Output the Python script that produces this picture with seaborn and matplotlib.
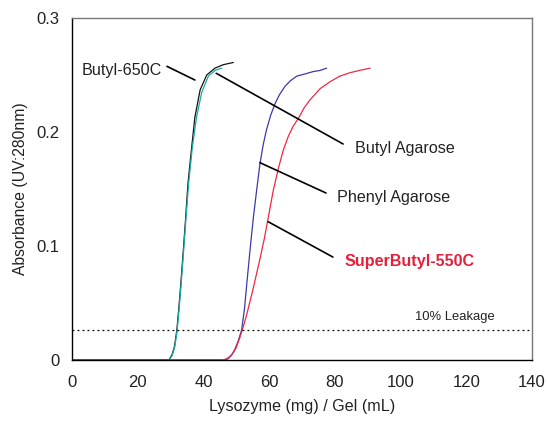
import matplotlib
matplotlib.use("Agg")
import matplotlib.pyplot as plt
import seaborn as sns
import pandas as pd

# --- data ---
butyl650_x = [0, 29.5, 30.5, 31.2, 31.9, 32.5, 33.2, 33.9, 34.6, 35.3, 36.4, 37.4, 39.0, 41.0, 43.5, 46.0, 49.1]
butyl650_y = [0, 0, 0.005, 0.012, 0.026, 0.045, 0.07, 0.097, 0.125, 0.155, 0.186, 0.213, 0.237, 0.25, 0.256, 0.259, 0.261]

butylag_x = [0, 29.5, 30.5, 31.3, 32.0, 32.6, 33.3, 34.0, 34.7, 35.5, 36.6, 37.9, 39.5, 41.5, 43.5, 45.5]
butylag_y = [0, 0, 0.004, 0.012, 0.026, 0.045, 0.07, 0.097, 0.125, 0.155, 0.186, 0.213, 0.235, 0.249, 0.254, 0.256]

phenyl_x = [0, 46, 47.5, 48.5, 49.5, 50.5, 51.6, 52.5, 53.3, 54.2, 55.2, 56.2, 57.2, 58.2, 59.2, 60.5, 61.8, 63.2, 64.8, 66.5, 68.4, 71, 73.4, 75.5, 77.5]
phenyl_y = [0, 0, 0.001, 0.004, 0.009, 0.016, 0.026, 0.045, 0.07, 0.097, 0.125, 0.149, 0.172, 0.189, 0.202, 0.215, 0.225, 0.233, 0.24, 0.245, 0.249, 0.251, 0.253, 0.254, 0.256]

superbutyl_x = [0, 46, 47, 48, 49, 50, 51, 51.8, 53.1, 55, 57.0, 58.5, 59.8, 61.2, 62.8, 64.3, 65.8, 67.3, 68.9, 70.6, 72.4, 75.5, 78.5, 81.5, 84.6, 87.5, 90.7]
superbutyl_y = [0, 0, 0.001, 0.003, 0.006, 0.011, 0.019, 0.026, 0.039, 0.061, 0.086, 0.106, 0.126, 0.148, 0.168, 0.184, 0.196, 0.205, 0.212, 0.221, 0.228, 0.238, 0.244, 0.249, 0.252, 0.254, 0.256]

leakage_level = 0.0263
x_ticks = [0, 20, 40, 60, 80, 100, 120, 140]
y_ticks = [0, 0.1, 0.2, 0.3]
y_tick_labels = ["0", "0.1", "0.2", "0.3"]

sns.set_theme(style="white")
plt.rcParams["font.family"] = ["Liberation Sans", "DejaVu Sans"]

fig = plt.figure(figsize=(5.48, 4.21), dpi=100)
ax = fig.add_axes([72 / 548, 1 - 360 / 421, (532 - 72) / 548, (360 - 18) / 421])

series = [
    (butyl650_x, butyl650_y, "#111111"),
    (butylag_x, butylag_y, "#17a9a4"),
    (phenyl_x, phenyl_y, "#3a3aa8"),
    (superbutyl_x, superbutyl_y, "#ee2940"),
]
for xs, ys, c in series:
    df = pd.DataFrame({"x": xs, "y": ys})
    sns.lineplot(data=df, x="x", y="y", ax=ax, color=c, lw=0.9,
                 sort=False, estimator=None)

ax.axhline(leakage_level, color="black", lw=0.9, ls=(0, (1.5, 2.5)))

ax.set_xlim(0, 140)
ax.set_ylim(0, 0.3)
ax.set_xticks(x_ticks)
ax.set_yticks(y_ticks)
ax.set_yticklabels(y_tick_labels)
ax.tick_params(axis="both", direction="in", length=5, width=0.8, color="#555555",
               labelsize=12, labelcolor="#222222")
ax.tick_params(axis="y", pad=9)
ax.tick_params(axis="x", pad=11)
ax.set_xlabel("Lysozyme (mg) / Gel (mL)", fontsize=11.6, color="#222222", labelpad=6)
ax.set_ylabel("Absorbance (UV:280nm)", fontsize=11.3, color="#222222", labelpad=6)

for s in ["left", "bottom"]:
    ax.spines[s].set_color("black")
    ax.spines[s].set_linewidth(1.0)
for s in ["top", "right"]:
    ax.spines[s].set_color("#777777")
    ax.spines[s].set_linewidth(1.0)

# annotations
lc = "black"
tc = "#222222"
fs = 11.6
ax.plot([28.9, 37.4], [0.2576, 0.2456], color=lc, lw=1.2)
ax.text(15.2, 0.254, "Butyl-650C", fontsize=fs, ha="center", va="center", color=tc)
ax.plot([43.9, 82.5], [0.2515, 0.1895], color=lc, lw=1.2)
ax.text(86.0, 0.1855, "Butyl Agarose", fontsize=fs, ha="left", va="center", color=tc)
ax.plot([57.2, 77.3], [0.1731, 0.1465], color=lc, lw=1.2)
ax.text(80.6, 0.1425, "Phenyl Agarose", fontsize=fs, ha="left", va="center", color=tc)
ax.plot([59.7, 79.4], [0.1213, 0.0903], color=lc, lw=1.2)
ax.text(82.8, 0.0860, "SuperButyl-550C", fontsize=fs, ha="left", va="center",
        color="#e5203c", fontweight="bold")
ax.text(116.6, 0.038, "10% Leakage", fontsize=9.4, ha="center", va="center", color=tc)

fig.savefig("out.png", dpi=100)
